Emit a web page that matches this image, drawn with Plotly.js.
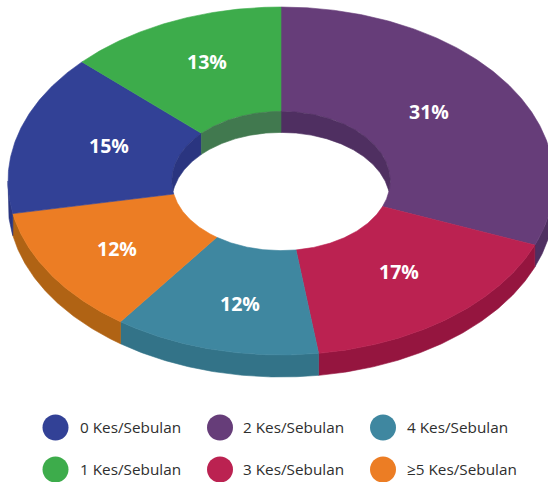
<!DOCTYPE html>
<html>
<head>
<meta charset="utf-8">
<script src="https://cdn.plot.ly/plotly-3.0.1.min.js"></script>
<style>html,body{margin:0;padding:0;background:#fff}#chart{width:548px;height:482px}</style>
</head>
<body>
<div id="chart"></div>
<script>
// Data, in drawing order clockwise from twelve o'clock
const sliceNames = ["2 Kes/Sebulan", "3 Kes/Sebulan", "4 Kes/Sebulan", "≥5 Kes/Sebulan", "0 Kes/Sebulan", "1 Kes/Sebulan"];
const sliceValues = [31, 16.8, 12.2, 12, 15, 13];

// Styles
const topColors  = ["#663d79", "#bb2251", "#3f87a0", "#ec7d24", "#324196", "#3dac4b"];
const sideColors = ["#4f2f61", "#95153f", "#337388", "#b06314", "#2a3580", "#41794f"];
const labelRadius = [0.672, 0.678, 0.717, 0.716, 0.661, 0.736];
const labelTurn   = [-2.0, -1.4, -2.0, -0.6, 1.6, 1.8];
const legendOrder = ["0 Kes/Sebulan", "2 Kes/Sebulan", "4 Kes/Sebulan", "1 Kes/Sebulan", "3 Kes/Sebulan", "≥5 Kes/Sebulan"];
const legendCols = [55.5, 220, 383];
const legendRows = [427.5, 469.5];
const legendTextX = [78, 241, 405];
const legendTextNudge = -1;
const FONT = '"Open Sans", "Noto Sans", sans-serif';

// Geometry of the tilted ring, in plot units
const CX = 281, CY = 181, RX = 273, RY = 174, HOLE = 0.4, DEPTH = 22, INNER_DEPTH = 21;
const rad = d => d * Math.PI / 180;
const px = (t, r) => CX + RX * r * Math.sin(rad(t));
const py = (t, r) => CY - RY * r * Math.cos(rad(t));
function steps(a, b) {
  const n = Math.max(2, Math.ceil(Math.abs(b - a) * 2));
  return Array.from({length: n + 1}, (_, i) => a + (b - a) * i / n);
}
function poly(xs, ys, color) {
  return {type: "scatter", mode: "lines", x: xs.concat(xs[0]), y: ys.concat(ys[0]),
    fill: "toself", fillcolor: color, line: {color: color, width: 0.6}, hoverinfo: "skip", showlegend: false};
}

const total = sliceValues.reduce((a, b) => a + b, 0);
let acc = 0;
const ranges = sliceValues.map(v => { const a = acc / total * 360; acc += v; return [a, acc / total * 360]; });

const outerWalls = [], faces = [], innerWalls = [], annotations = [];

ranges.forEach(([a, b], i) => {
  // outer wall: only the near half of the ring (90..270 degrees)
  const wa = Math.max(a, 90), wb = Math.min(b, 270);
  if (wb > wa) {
    const ts = steps(wa, wb);
    const xs = ts.map(t => px(t, 1)), ys = ts.map(t => py(t, 1));
    const rx = xs.slice().reverse(), ry = ys.slice().reverse().map(y => y + DEPTH);
    outerWalls.push(poly(xs.concat(rx), ys.concat(ry), sideColors[i]));
  }
  // top face
  const ts = steps(a, b);
  faces.push(poly(
    ts.map(t => px(t, 1)).concat(ts.slice().reverse().map(t => px(t, HOLE))),
    ts.map(t => py(t, 1)).concat(ts.slice().reverse().map(t => py(t, HOLE))),
    topColors[i]));
  // inner wall: only the far half of the hole
  [[a, Math.min(b, 90)], [Math.max(a, 270), b]].forEach(([p, q]) => {
    if (q <= p) return;
    const tt = steps(p, q);
    const xs = tt.map(t => px(t, HOLE)), ys = tt.map(t => py(t, HOLE));
    const low = tt.map(t => Math.min(py(t, HOLE) + INNER_DEPTH, CY + RY * HOLE * Math.abs(Math.cos(rad(t)))));
    innerWalls.push(poly(xs.concat(xs.slice().reverse()), ys.concat(low.reverse()), sideColors[i]));
  });
  // percentage label
  const mid = (a + b) / 2 + labelTurn[i];
  annotations.push({x: px(mid, labelRadius[i]), y: py(mid, labelRadius[i]), xref: "x", yref: "y",
    text: "<b>" + Math.round(sliceValues[i]) + "%</b>", showarrow: false,
    font: {family: FONT, size: 19.5, color: "#ffffff"}});
});

// Legend
const legendTraces = legendOrder.map((name, k) => {
  const c = k % 3, r = Math.floor(k / 3);
  const idx = sliceNames.indexOf(name);
  annotations.push({x: legendTextX[c], y: legendRows[r] + legendTextNudge, xref: "x", yref: "y",
    xanchor: "left", text: name, showarrow: false,
    font: {family: FONT, size: 15.3, color: "#2e2e2e"}});
  return {type: "scatter", mode: "markers", x: [legendCols[c]], y: [legendRows[r]],
    marker: {size: 26, color: topColors[idx], line: {width: 0}}, hoverinfo: "skip", showlegend: false};
});

Plotly.newPlot("chart", outerWalls.concat(faces, innerWalls, legendTraces), {
  width: 548, height: 482,
  margin: {l: 0, r: 0, t: 0, b: 0, pad: 0},
  paper_bgcolor: "#ffffff", plot_bgcolor: "#ffffff",
  xaxis: {range: [0, 548], visible: false, fixedrange: true},
  yaxis: {range: [482, 0], visible: false, fixedrange: true},
  showlegend: false, hovermode: false,
  annotations: annotations
}, {displayModeBar: false, staticPlot: true});
</script>
</body>
</html>
